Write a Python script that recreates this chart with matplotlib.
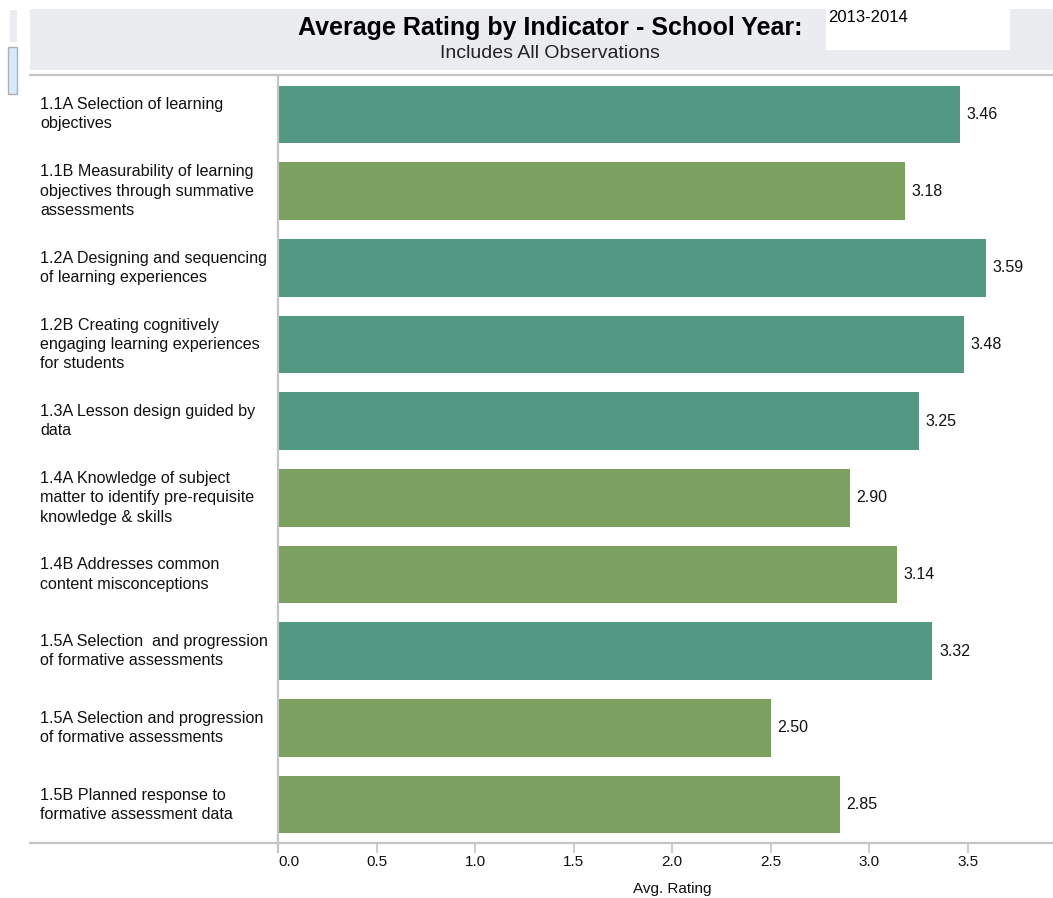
import matplotlib
matplotlib.use("Agg")
import matplotlib.pyplot as plt
from matplotlib.patches import Rectangle
from matplotlib.lines import Line2D

plt.rcParams['font.family'] = ['Liberation Sans', 'DejaVu Sans']

# average rating per indicator
indicators = [
    "1.1A Selection of learning\nobjectives",
    "1.1B Measurability of learning\nobjectives through summative\nassessments",
    "1.2A Designing and sequencing\nof learning experiences",
    "1.2B Creating cognitively\nengaging learning experiences\nfor students",
    "1.3A Lesson design guided by\ndata",
    "1.4A Knowledge of subject\nmatter to identify pre-requisite\nknowledge & skills",
    "1.4B Addresses common\ncontent misconceptions",
    "1.5A Selection  and progression\nof formative assessments",
    "1.5A Selection and progression\nof formative assessments",
    "1.5B Planned response to\nformative assessment data",
]
ratings = [3.46, 3.18, 3.59, 3.48, 3.25, 2.90, 3.14, 3.32, 2.50, 2.85]
xticks = [0.0, 0.5, 1.0, 1.5, 2.0, 2.5, 3.0, 3.5]
school_year = "2013-2014"

W, H = 1053, 898
TEAL = "#529882"
GREEN = "#7ba05f"
LINE = "#c4c4c4"

fig = plt.figure(figsize=(W / 100, H / 100), dpi=100)

def fx(px):
    return px / W

def fy(py):
    return 1 - py / H

# header band
fig.patches.append(Rectangle((fx(30), fy(70)), fx(1053 - 30), fy(9) - fy(70),
                             transform=fig.transFigure, facecolor="#ebecf0",
                             edgecolor="none", zorder=0))
fig.patches.append(Rectangle((fx(826), fy(50)), fx(1010 - 826), fy(9) - fy(50),
                             transform=fig.transFigure, facecolor="white",
                             edgecolor="none", zorder=1))
# little side panels on the far left
fig.patches.append(Rectangle((fx(10), fy(42)), fx(7), fy(10) - fy(42),
                             transform=fig.transFigure, facecolor="#ebecf0",
                             edgecolor="none"))
fig.patches.append(Rectangle((fx(8), fy(94)), fx(9), fy(47) - fy(94),
                             transform=fig.transFigure, facecolor="#d6eafc",
                             edgecolor="#b0b0b0", linewidth=1))

fig.text(fx(550), fy(28), "Average Rating by Indicator - School Year:",
         fontsize=18, fontweight="bold", ha="center", va="center")
fig.text(fx(550), fy(54), "Includes All Observations",
         fontsize=14, ha="center", va="center", color="#222222")
fig.text(fx(828), fy(17), school_year, fontsize=12, ha="left", va="center")

# header rule
fig.lines.append(Line2D([fx(30), 1], [fy(75), fy(75)], transform=fig.transFigure,
                        color=LINE, linewidth=1.6))

ax = fig.add_axes([fx(278), fy(843), 1 - fx(278), fy(76) - fy(843)])
colors = [TEAL if r >= 3.2 else GREEN for r in ratings]
pos = list(range(len(ratings)))
ax.barh(pos, ratings, height=0.75, color=colors, edgecolor="none")
ax.set_ylim(len(ratings) - 0.5, -0.5)
ax.set_xlim(0, (W - 278) / 197.1)

for p, r in zip(pos, ratings):
    ax.annotate(f"{r:.2f}", (r, p), xytext=(5, 0), textcoords="offset points",
                va="center", ha="left", fontsize=11.5, color="#111111")

for p, lab in zip(pos, indicators):
    y_fig = ax.transData.transform((0, p))
    fig.text(fx(40), fig.transFigure.inverted().transform(y_fig)[1], lab,
             fontsize=11.6, ha="left", va="center", linespacing=1.35,
             color="#111111")

for s in ["top", "right", "bottom"]:
    ax.spines[s].set_visible(False)
ax.spines["left"].set_color(LINE)
ax.spines["left"].set_linewidth(1.6)
ax.spines["left"].set_bounds(-0.5, len(ratings) - 0.5 + 0.12)

# bottom rule running under the row headers too
fig.lines.append(Line2D([fx(30), 1], [fy(843), fy(843)], transform=fig.transFigure,
                        color=LINE, linewidth=1.6))

ax.set_yticks([])
ax.set_xticks(xticks)
ax.set_xticklabels([f"{t:.1f}" for t in xticks], fontsize=11, color="#111111")
ax.tick_params(axis="x", length=7, width=1.2, color=LINE, pad=1.5)
ax.get_xticklabels()[0].set_horizontalalignment("left")
fig.text(fx(672), fy(889), "Avg. Rating", fontsize=11, ha="center",
         va="center", color="#111111")

fig.savefig("out.png", dpi=100)
